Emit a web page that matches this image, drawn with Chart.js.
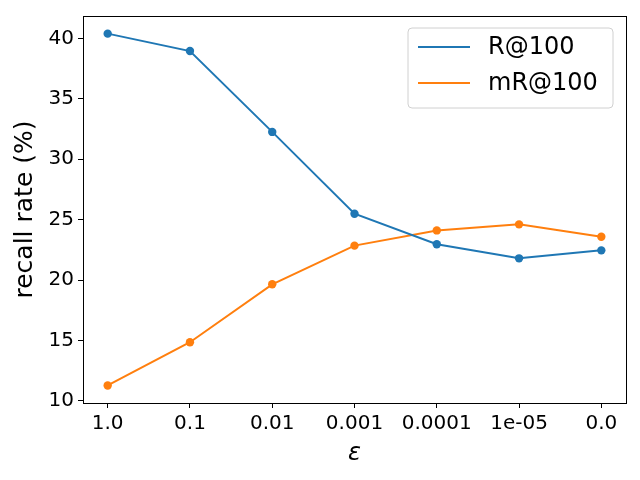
<!DOCTYPE html>
<html><head><meta charset="utf-8">
<script src="https://cdn.jsdelivr.net/npm/chart.js@4/dist/chart.umd.min.js"></script>
<style>html,body{margin:0;padding:0;background:#fff;}#wrap{width:640px;height:480px;}</style>
</head><body><div id="wrap"><canvas id="c" width="640" height="480"></canvas></div>
<script>
const categories = ["1.0","0.1","0.01","0.001","0.0001","1e-05","0.0"];
const rAt100 = [40.39, 38.95, 32.26, 25.49, 22.96, 21.80, 22.46];
const mrAt100 = [11.28, 14.86, 19.65, 22.85, 24.11, 24.61, 23.59];
const seriesNames = ["R@100","mR@100"];
const yTicks = [10,15,20,25,30,35,40];

const FONT = "'DejaVu Sans', sans-serif";
const toPts = arr => arr.map((v,i)=>({x:i,y:v}));

const legendPlugin = {
  id:'innerLegend',
  afterDraw(chart){
    const ctx = chart.ctx;
    const x0=408, y0=28, w=205, h=80;
    ctx.save();
    ctx.fillStyle='rgba(255,255,255,0.8)';
    ctx.strokeStyle='#d0d0d0';
    ctx.lineWidth=1;
    const r=4;
    ctx.beginPath();
    ctx.moveTo(x0+r,y0);ctx.lineTo(x0+w-r,y0);ctx.quadraticCurveTo(x0+w,y0,x0+w,y0+r);
    ctx.lineTo(x0+w,y0+h-r);ctx.quadraticCurveTo(x0+w,y0+h,x0+w-r,y0+h);
    ctx.lineTo(x0+r,y0+h);ctx.quadraticCurveTo(x0,y0+h,x0,y0+h-r);
    ctx.lineTo(x0,y0+r);ctx.quadraticCurveTo(x0,y0,x0+r,y0);ctx.closePath();
    ctx.fill();ctx.stroke();
    chart.data.datasets.forEach((ds,i)=>{
      const yy = y0+19+i*36;
      ctx.strokeStyle=ds.borderColor;ctx.lineWidth=2;
      ctx.beginPath();ctx.moveTo(418,yy);ctx.lineTo(470,yy);ctx.stroke();
      ctx.fillStyle='#000';ctx.font='24px '+FONT;ctx.textBaseline='middle';ctx.textAlign='left';
      ctx.fillText(ds.label,488,yy+1);
    });
    ctx.restore();
  }
};
const framePlugin = {
  id:'frame',
  afterDatasetsDraw(chart){
    const a=chart.chartArea, ctx=chart.ctx;
    ctx.save();ctx.strokeStyle='#000';ctx.lineWidth=1;
    ctx.strokeRect(Math.round(a.left)+0.5,Math.round(a.top)+0.5,Math.round(a.right-a.left),Math.round(a.bottom-a.top));
    ctx.restore();
  }
};

new Chart(document.getElementById('c'),{
  type:'line',
  data:{datasets:[
    {label:seriesNames[0],data:toPts(rAt100),borderColor:'#1f77b4',backgroundColor:'#1f77b4',borderWidth:2,pointRadius:4.2,pointBorderWidth:0,tension:0},
    {label:seriesNames[1],data:toPts(mrAt100),borderColor:'#ff7f0e',backgroundColor:'#ff7f0e',borderWidth:2,pointRadius:4.2,pointBorderWidth:0,tension:0}
  ]},
  options:{
    responsive:false,animation:false,devicePixelRatio:1,
    layout:{padding:{top:15,right:14,left:0,bottom:0}},
    plugins:{legend:{display:false},tooltip:{enabled:false}},
    scales:{
      x:{type:'linear',min:-0.3,max:6.3,
        afterBuildTicks(s){s.ticks=categories.map((c,i)=>({value:i}));},
        afterFit(s){s.height=77;},
        ticks:{callback:(v)=>categories[v],font:{family:FONT,size:20},color:'#000',padding:4,maxRotation:0,autoSkip:false},
        grid:{display:true,drawOnChartArea:false,drawTicks:true,tickLength:5,color:'#000'},
        border:{display:true,color:'#000'},
        title:{display:true,text:'ε',font:{family:FONT,size:24,style:'italic'},color:'#000',padding:{top:2,bottom:12}}
      },
      y:{min:9.83,max:41.85,
        afterBuildTicks(s){s.ticks=yTicks.map(v=>({value:v}));},
        afterFit(s){s.width=83;},
        ticks:{font:{family:FONT,size:20},color:'#000',padding:4},
        grid:{display:true,drawOnChartArea:false,drawTicks:true,tickLength:5,color:'#000'},
        border:{display:true,color:'#000'},
        title:{display:true,text:'recall rate (%)',font:{family:FONT,size:25},color:'#000',padding:{top:10,bottom:4}}
      }
    }
  },
  plugins:[framePlugin,legendPlugin]
});
</script></body></html>
